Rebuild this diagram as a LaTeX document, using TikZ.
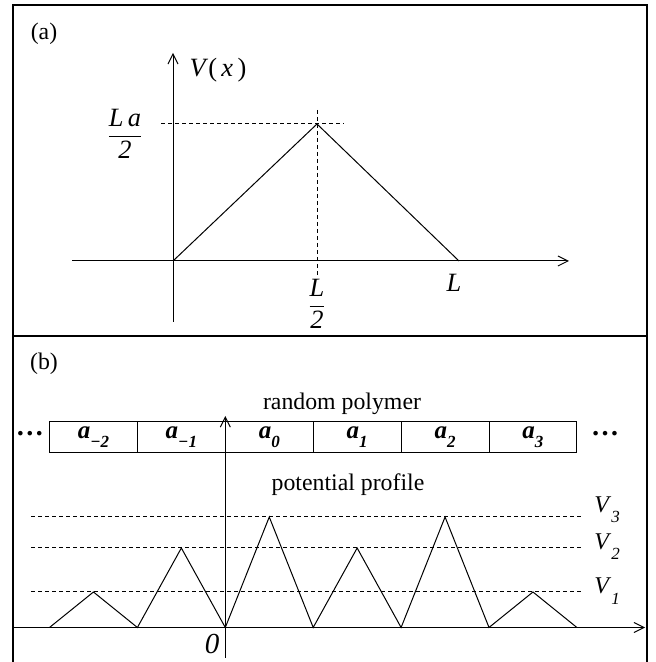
\documentclass[tikz,border=0pt]{standalone}
\usepackage{fontspec}
\usepackage{amsmath}
\setmainfont{Liberation Serif}
\usetikzlibrary{arrows.meta,positioning}

\newcommand{\lowsub}[2][4.5pt]{\raisebox{-#1}{\fontsize{8.5}{9}\selectfont#2}}

\begin{document}
\begin{tikzpicture}[x=0.5pt,y=0.5pt,
  font=\fontsize{11.9}{14}\selectfont,
  axis/.style={line width=0.5pt,-{Straight Barb[length=5pt,width=5pt]}},
  guide/.style={line width=0.5pt,dash pattern=on 2pt off 1.5pt},
  curve/.style={line width=0.5pt,line join=miter},
  mathlabel/.style={font=\fontsize{13.2}{15}\selectfont,inner sep=0pt},
  level/.style={anchor=base west,inner sep=0pt,font=\fontsize{12}{14}\selectfont},
  cell/.style={draw,line width=0.5pt,outer sep=0pt,inner sep=0pt,
    minimum width=43.95pt,minimum height=15.5pt,
    font=\fontsize{12.5}{14}\selectfont\bfseries\itshape}]
\path[use as bounding box] (0,0) rectangle (656,662);
% frame of both panels
\draw[line width=0.6pt] (13,0) -- (13,657) -- (647,657) -- (647,0);
\draw[line width=0.6pt] (13,326) -- (647,326);

% (a) single barrier
\node (taga) at (44,628) {(a)};
\coordinate (oa) at (173,401);
\coordinate (ytopa) at (173,609);
\coordinate (ybota) at (173,340);
\coordinate (xlefta) at (72,401);
\coordinate (xrighta) at (569,401);
\coordinate (peak) at (317,538);
\coordinate (enda) at (459,401);
\coordinate (hleft) at (161,538);
\coordinate (hright) at (344,538);
\coordinate (vtop) at (317,552);
\coordinate (vbot) at (317,386);
\draw[axis] (ybota) -- (ytopa);
\draw[axis] (xlefta) -- (xrighta);
\draw[guide] (hleft) -- (hright);
\draw[guide] (vtop) -- (vbot);
\draw[curve] (oa) -- (peak) -- (enda);
\node[mathlabel] (vx) at (218,592) {\textit{V}(\,\textit{x}\,)};
\node[mathlabel] (lahalf) at (125,528) {$\dfrac{\textit{L\,a}}{\textit{2}}$};
\node[mathlabel] (lhalf) at (317,358) {$\dfrac{\textit{L}}{\textit{2}}$};
\node[mathlabel] (lend) at (454,379) {\textit{L}};

% (b) random polymer and its profile
\node (tagb) at (44,298) {(b)};
\node (poly) at (342,258) {random polymer};
\node[cell] (am2) at (93.45,224.8) {a\lowsub{−2}};
\node[cell,right=0pt of am2] (am1) {a\lowsub{−\textit{1}}};
\node[cell,right=0pt of am1] (a0) {a\lowsub{0}};
\node[cell,right=0pt of a0] (a1) {a\lowsub{\textit{1}}};
\node[cell,right=0pt of a1] (a2) {a\lowsub{2}};
\node[cell,right=0pt of a2] (a3) {a\lowsub{3}};
\node[font=\fontsize{14}{16}\selectfont\bfseries] (ldots) at (30,228) {\dots};
\node[font=\fontsize{14}{16}\selectfont\bfseries] (rdots) at (605,228) {\dots};
\node (prof) at (348,177) {potential profile};

\coordinate (ob) at (225.3,34.5);
\coordinate (ytopb) at (225.3,246);
\coordinate (ybotb) at (225.3,4);
\coordinate (xleftb) at (12.5,34.5);
\coordinate (xrightb) at (645,34.5);
\coordinate (lv1) at (31,70);
\coordinate (lv1e) at (583,70);
\coordinate (lv2) at (31,114);
\coordinate (lv2e) at (583,114);
\coordinate (lv3) at (31,145);
\coordinate (lv3e) at (583,145);
\draw[axis] (ybotb) -- (ytopb);
\draw[axis] (xleftb) -- (xrightb);
\draw[guide] (lv1) -- (lv1e);
\draw[guide] (lv2) -- (lv2e);
\draw[guide] (lv3) -- (lv3e);
\draw[curve] (am2.south west |- ob) -- (am2 |- lv1) -- (am1.south west |- ob)
  -- (am1 |- lv2) -- (a0.south west |- ob) -- (a0 |- lv3)
  -- (a1.south west |- ob) -- (a1 |- lv2) -- (a2.south west |- ob)
  -- (a2 |- lv3) -- (a3.south west |- ob) -- (a3 |- lv1) -- (a3.south east |- ob);
\node[font=\fontsize{14.5}{16}\selectfont] (zero) at (212,18) {\textit{0}};
\node[level] (v3) at (594,149) {\textit{V}\lowsub[5pt]{\textit{3}}};
\node[level] (v2) at (594,112) {\textit{V}\lowsub[5pt]{\textit{2}}};
\node[level] (v1) at (594,68) {\textit{V}\lowsub[5pt]{\textit{1}}};
\end{tikzpicture}
\end{document}
